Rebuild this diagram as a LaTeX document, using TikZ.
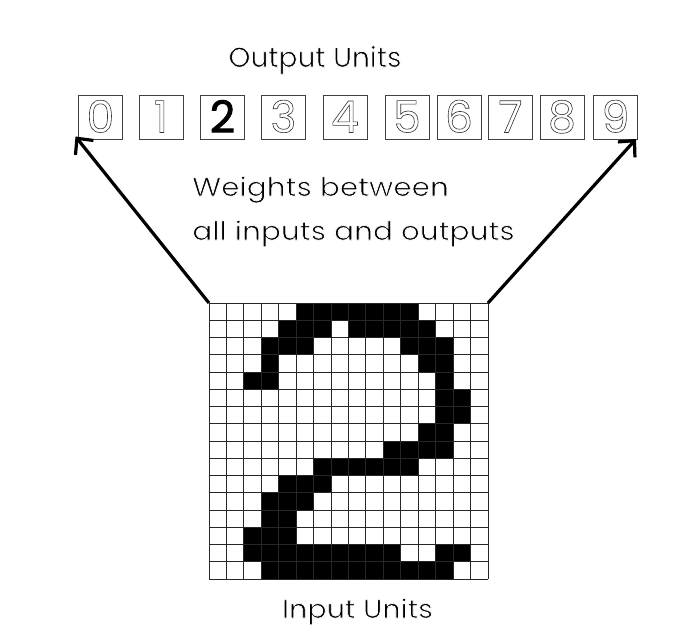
\documentclass[tikz,border=0pt]{standalone}
\usepackage{fontspec}
\setmainfont{Poppins}
\usetikzlibrary{arrows.meta}
\newcommand\outlinetext[1]{\special{pdf:literal direct 1 Tr 0.6 w}#1\special{pdf:literal direct 0 Tr}}
\newcommand\thintext[1]{\special{pdf:literal direct 1 1 1 RG 2 Tr 0.7 w}#1\special{pdf:literal direct 0 Tr}}
\newcommand\heavytext[1]{\special{pdf:literal direct 0 0 0 RG 2 Tr 0.8 w}#1\special{pdf:literal direct 0 Tr}}
\tikzset{
  digitbox/.style={draw=black!75, line width=0.9pt, minimum width=44pt, minimum height=44pt, inner sep=0pt, anchor=north west},
  digittext/.style={font=\fontsize{44}{44}\selectfont, text=black!80, anchor=base, inner sep=0pt},
  label/.style={inner sep=0pt, anchor=base},
  biglabel/.style={label, font=\fontsize{26}{26}\selectfont, xscale=1.1},
  bigarrow/.style={line width=3.2pt, -{Straight Barb[length=12pt,width=23pt]}},
}
\begin{document}
\begin{tikzpicture}[x=1pt,y=-1pt]
\useasboundingbox (0,0) rectangle (686,638);
% output boxes
\foreach \d/\xl in {0/78,1/138.5,2/200,3/261,4/322.5,5/384.5,6/436.5,7/488,8/539.5,9/593}{
  \node[digitbox] (b\d) at (\xl,95) {};
}
\foreach \d in {0,1,3,4,5,6,7,8,9}{
  \node[digittext] (t\d) at ([yshift=-37.5pt]b\d.north) {\outlinetext{\d}};
}
\node[digittext, text=black] (t2) at ([yshift=-37.5pt]b2.north) {\heavytext{2}};
% labels
\node[label, font=\fontsize{28}{28}\selectfont] (out) at (315,67) {\thintext{Output Units}};
\node[biglabel, xscale=1.035, anchor=base west] (w1) at (192,196) {\thintext{Weights between}};
\node[biglabel, xscale=1.035, anchor=base west] (w2) at (192,240) {\thintext{all inputs and outputs}};
\node[biglabel] (inp) at (357.5,618) {\thintext{Input Units}};
% grid
\def\gx{209}\def\gy{303}\def\cw{17.4375}\def\ch{17.25}
\foreach \r/\cols in {0/{5,6,7,8,9,10,11},1/{4,5,6,8,9,10,11,12},2/{3,4,5,11,12,13},3/{3,12,13},4/{2,3,13},5/{13,14},6/{13,14},7/{12,13},8/{10,11,12,13},9/{6,7,8,9,10,11},10/{4,5,6},11/{3,4,5},12/{3,4},13/{2,3,4},14/{2,3,4,5,6,7,8,9,10,13,14},15/{3,4,5,6,7,8,9,10,11,12,13}}{
  \foreach \c in \cols {
    \fill[black] ({\gx+\c*\cw},{\gy+\r*\ch}) rectangle ++(\cw,\ch);
  }
}
\foreach \i in {0,...,16}{
  \draw[black!85, line width=0.9pt] ({\gx+\i*\cw},\gy) -- ({\gx+\i*\cw},{\gy+16*\ch});
  \draw[black!85, line width=0.9pt] (\gx,{\gy+\i*\ch}) -- ({\gx+16*\cw},{\gy+\i*\ch});
}
\coordinate (gridNW) at (\gx,\gy);
\coordinate (gridNE) at ({\gx+16*\cw},\gy);
\coordinate (tipL) at (75.5,136.5);
\coordinate (tipR) at (636,139);
\draw[bigarrow] (gridNW) -- (tipL);
\draw[bigarrow] (gridNE) -- (tipR);
\end{tikzpicture}
\end{document}
